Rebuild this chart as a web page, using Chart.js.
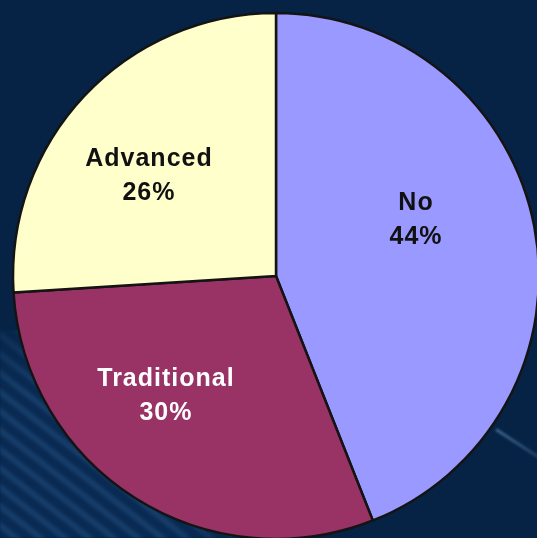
<!DOCTYPE html>
<html>
<head>
<meta charset="utf-8">
<script src="https://cdn.jsdelivr.net/npm/chart.js@4/dist/chart.umd.min.js"></script>
<style>
  html, body {
    margin: 0;
    padding: 0;
    width: 537px;
    height: 538px;
    overflow: hidden;
    background: #062346;
  }
  .stripes {
    position: absolute;
    left: 0;
    top: 330px;
    width: 240px;
    height: 208px;
    background: repeating-linear-gradient(38deg, #092a52 0px, #092a52 5px, #163d69 9px, #163d69 11px, #092a52 15px);
    filter: blur(1.2px);
    -webkit-mask-image: radial-gradient(ellipse at 0% 100%, #000 50%, transparent 90%);
    mask-image: radial-gradient(ellipse at 0% 100%, #000 50%, transparent 90%);
  }
  .streak {
    position: absolute;
    left: 496px;
    top: 428px;
    width: 52px;
    height: 3px;
    background: linear-gradient(90deg, rgba(70, 110, 150, 0.85), rgba(70, 110, 150, 0.35));
    transform: rotate(33deg);
    transform-origin: left center;
    filter: blur(1px);
  }
  .wrap {
    position: absolute;
    left: 0;
    top: 0;
    width: 552px;
    height: 552px;
  }
</style>
</head>
<body>
<div class="stripes"></div>
<div class="streak"></div>
<div class="wrap"><canvas id="pie"></canvas></div>
<script>
const categories = ["No", "Traditional", "Advanced"];
const shares = [44, 30, 26];
const sliceColors = ["#9999ff", "#993366", "#ffffcc"];
const labelColors = ["#111111", "#ffffff", "#111111"];

// pixel shifts from the default anchor (60% out along the slice's middle)
const labelNudge = [
  { x: -15.5, y: -26 },
  { x: -26, y: -13 },
  { x: -12.5, y: 8 }
];

const sliceLabels = {
  id: "sliceLabels",
  afterDatasetsDraw(chart) {
    const { ctx } = chart;
    const arcs = chart.getDatasetMeta(0).data;
    ctx.save();
    ctx.font = "bold 25px 'Liberation Sans', Arial, sans-serif";
    ctx.letterSpacing = "1px";
    ctx.textAlign = "center";
    ctx.textBaseline = "middle";
    arcs.forEach((arc, i) => {
      const { x, y, startAngle, endAngle, outerRadius } = arc.getProps(["x", "y", "startAngle", "endAngle", "outerRadius"], true);
      const mid = (startAngle + endAngle) / 2;
      const cx = x + Math.cos(mid) * outerRadius * 0.6 + labelNudge[i].x;
      const cy = y + Math.sin(mid) * outerRadius * 0.6 + labelNudge[i].y;
      ctx.fillStyle = labelColors[i];
      ctx.fillText(categories[i], cx + 0.5, cy - 17);
      ctx.fillText(`${shares[i]}%`, cx + 0.5, cy + 17);
    });
    ctx.restore();
  }
};

new Chart(document.getElementById("pie"), {
  type: "pie",
  data: {
    labels: categories,
    datasets: [
      {
        data: shares,
        backgroundColor: sliceColors,
        borderColor: "#141414",
        borderWidth: 2.5,
        radius: 263
      }
    ]
  },
  plugins: [sliceLabels],
  options: {
    responsive: true,
    maintainAspectRatio: false,
    animation: false,
    events: [],
    layout: { padding: 0 },
    plugins: {
      legend: { display: false },
      tooltip: { enabled: false }
    }
  }
});
</script>
</body>
</html>
